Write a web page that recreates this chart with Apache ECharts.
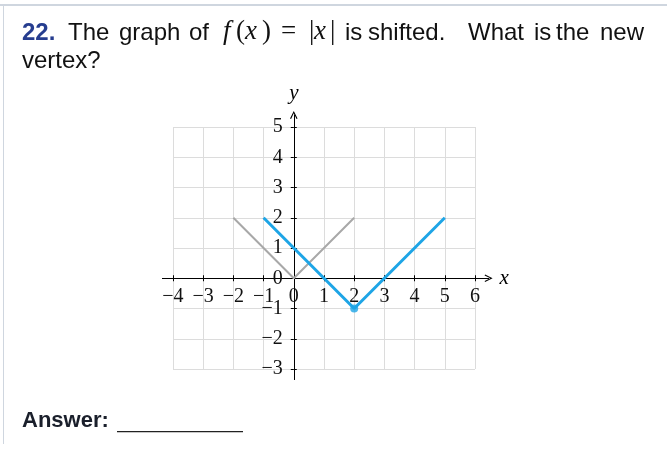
<!DOCTYPE html>
<html>
<head>
<meta charset="utf-8">
<style>
  html, body { margin: 0; padding: 0; background: #fff; }
  #chart { width: 667px; height: 450px; }
</style>
<script src="https://cdn.jsdelivr.net/npm/echarts@6/dist/echarts.min.js"></script>
</head>
<body>
<div id="chart"></div>
<script>
// datos
const xTicks = [-4, -3, -2, -1, 0, 1, 2, 3, 4, 5, 6];
const yTicks = [-3, -2, -1, 0, 1, 2, 3, 4, 5];
const parentX = [-2, 0, 2];
const parentY = [2, 0, 2];
const shiftedX = [-1, 2, 5];
const shiftedY = [2, -1, 2];
const vertexX = [2];
const vertexY = [-1];

const zip = (xs, ys) => xs.map((x, i) => [x, ys[i]]);
const fmt = v => (v < 0 ? '\u2212' + Math.abs(v) : String(v));

const serif = '"Liberation Serif", "DejaVu Serif", serif';
const sans = '"Liberation Sans", Arial, sans-serif';
const arrow = 'path://M0,10 L5,0 L10,10 L8.6,10.6 L5,3 L1.4,10.6 Z';

// rejilla: 30.2 px por unidad en x, 30.25 en y
const gLeft = 162.4, gTop = 114.9, gW = 326.2, gH = 264.7;
const xMin = -4.35, xMax = 6.45, yMin = -3.35, yMax = 5.4;
const zeroX = gLeft + (0 - xMin) / (xMax - xMin) * gW;
const zeroY = gTop + (yMax - 0) / (yMax - yMin) * gH;

var dom = document.getElementById('chart');
var myChart = echarts.init(dom, null, { renderer: 'canvas' });

// palabras del enunciado (texto justificado)
const word = (t, x) => ({
    type: 'text', left: x, top: 21,
    style: { text: t, font: '24px ' + sans, fill: '#111' }
});
const mathText = (t, x, italic) => ({
    type: 'text', left: x, top: 18,
    style: { text: t, font: (italic ? 'italic ' : '') + '27px ' + serif, fill: '#111' }
});

var option = {
    animation: false,
    backgroundColor: '#fff',
    grid: [
        { left: 173, top: 127, width: 302, height: 242 },
        { left: gLeft, top: gTop, width: gW, height: gH }
    ],
    xAxis: [{
        gridIndex: 0, type: 'value', min: -4, max: 6, interval: 1,
        axisLine: { show: false, onZero: true },
        axisTick: { show: true, inside: true, length: 3, lineStyle: { color: '#000' } },
        axisLabel: { show: false },
        splitLine: { show: true, lineStyle: { color: '#dcdcdc', width: 1 } }
    }, {
        gridIndex: 1, type: 'value', min: xMin, max: xMax,
        offset: -(gTop + gH - zeroY),
        name: 'x', nameLocation: 'end', nameGap: 11,
        nameTextStyle: { fontFamily: serif, fontStyle: 'italic', fontSize: 21, color: '#000', verticalAlign: 'middle' },
        axisLine: { show: true, onZero: false, symbol: ['none', arrow], symbolSize: [8, 8], lineStyle: { color: '#000', width: 1 } },
        axisTick: { show: true, length: 3, customValues: xTicks, lineStyle: { color: '#000' } },
        axisLabel: { show: true, customValues: xTicks, formatter: fmt, margin: 8, fontFamily: serif, fontSize: 20, color: '#111' },
        splitLine: { show: false }
    }],
    yAxis: [{
        gridIndex: 0, type: 'value', min: -3, max: 5, interval: 1,
        axisLine: { show: false, onZero: true },
        axisTick: { show: true, inside: true, length: 3, lineStyle: { color: '#000' } },
        axisLabel: { show: false },
        splitLine: { show: true, lineStyle: { color: '#dcdcdc', width: 1 } }
    }, {
        gridIndex: 1, type: 'value', min: yMin, max: yMax,
        offset: -(zeroX - gLeft),
        name: 'y', nameLocation: 'end', nameGap: 11,
        nameTextStyle: { fontFamily: serif, fontStyle: 'italic', fontSize: 21, color: '#000' },
        axisLine: { show: true, onZero: false, symbol: ['none', arrow], symbolSize: [8, 8], lineStyle: { color: '#000', width: 1 } },
        axisTick: { show: true, length: 3, customValues: yTicks, lineStyle: { color: '#000' } },
        axisLabel: { show: true, customValues: yTicks, formatter: fmt, margin: 11, fontFamily: serif, fontSize: 20, color: '#111' },
        splitLine: { show: false }
    }],
    series: [{
        name: 'f(x)=|x|', type: 'line', xAxisIndex: 1, yAxisIndex: 1,
        data: zip(parentX, parentY), symbol: 'none',
        lineStyle: { color: '#a8a8a8', width: 2 }, z: 3
    }, {
        name: 'shifted', type: 'line', xAxisIndex: 1, yAxisIndex: 1,
        data: zip(shiftedX, shiftedY), symbol: 'none',
        lineStyle: { color: '#1ea5e6', width: 3 }, z: 4
    }, {
        name: 'vertex', type: 'scatter', xAxisIndex: 1, yAxisIndex: 1,
        data: zip(vertexX, vertexY), symbolSize: 8,
        itemStyle: { color: '#1ea5e6' }, z: 5
    }],
    graphic: [
        // marco
        { type: 'rect', shape: { x: 0, y: 4, width: 667, height: 2 }, style: { fill: '#cfd6df' } },
        { type: 'rect', shape: { x: 3, y: 4, width: 1, height: 440 }, style: { fill: '#cfd6df' } },
        // enunciado
        { type: 'text', left: 22, top: 21, style: { text: '22.', font: 'bold 24px ' + sans, fill: '#263d8f' } },
        word('The', 68), word('graph', 119), word('of', 189),
        mathText('f', 223, true),
        mathText('(', 236, false),
        mathText('x', 245, true),
        mathText(')', 262, false),
        mathText('=', 281, false),
        mathText('|', 309, false),
        mathText('x', 314, true),
        mathText('|', 330, false),
        word('is', 345), word('shifted.', 368),
        word('What', 468), word('is', 534), word('the', 556), word('new', 600),
        { type: 'text', left: 22, top: 49, style: { text: 'vertex?', font: '24px ' + sans, fill: '#111' } },
        // respuesta
        { type: 'text', left: 22, top: 410, style: { text: 'Answer:', font: 'bold 22px ' + sans, fill: '#1a1f2b' } },
        { type: 'rect', shape: { x: 117, y: 431, width: 126, height: 1.2 }, style: { fill: '#222' } }
    ]
};

myChart.setOption(option);
</script>
</body>
</html>
